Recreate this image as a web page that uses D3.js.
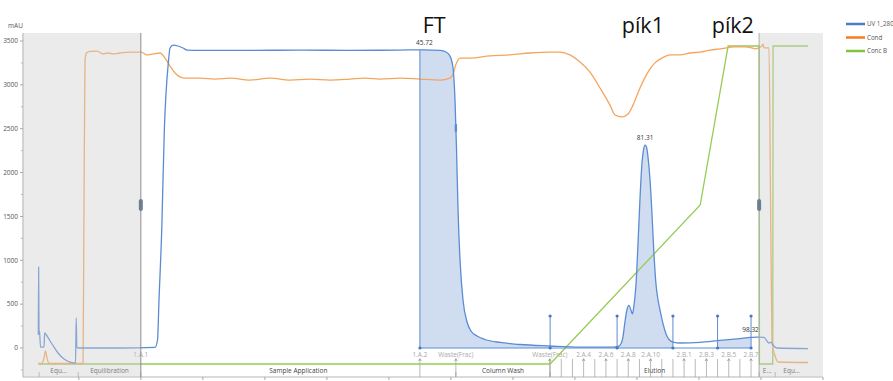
<!DOCTYPE html>
<html>
<head>
<meta charset="utf-8">
<script src="https://cdn.jsdelivr.net/npm/d3@7/dist/d3.min.js"></script>
<style>
  body { margin: 0; background: #fff; }
  svg { display: block; }
  text { font-family: "Open Sans", "Noto Sans", sans-serif; }
</style>
</head>
<body>
<svg id="chart" width="893" height="381"></svg>
<script>
// ---------- run data ----------
// UV 1_280 trace: retention volume (mL) and absorbance (mAU)
const uvVolume = [-16.53,-16.48,-16.42,-16.32,-16.17,-15.61,-15.51,-15.13,-14.64,-14.0,-13.35,-12.38,-11.42,-10.53,-10.42,-10.32,-10.13,-3.35,
  2.29,2.69,2.93,3.37,3.79,4.43,4.71,5.19,6.0,6.8,7.45,9.55,17.61,25.67,33.73,41.79,45.72,48.24,49.21,49.85,50.34,50.66,50.9,51.15,51.47,51.95,52.6,53.24,54.21,55.5,57.92,61.14,65.98,70.82,
  76.12,76.93,77.41,77.74,78.06,78.38,78.7,79.03,79.27,79.51,79.84,80.16,80.48,80.81,81.05,81.31,81.54,81.78,82.11,82.43,82.75,83.08,83.4,83.72,84.21,84.69,85.18,85.82,86.94,90.16,93.39,96.61,98.32,
  99.52,100.49,100.97,101.29,101.62,101.94,102.59,107.59];
const uvAbs = [148,923,205,171,11,11,171,137,80,11,-57,-125,-160,-171,342,11,0,0,
  6,91,547,1345,2485,3249,3420,3454,3443,3420,3397,3392,3392,3397,3392,3397,3399,3392,3375,3329,3192,2827,2280,1573,1003,547,296,194,137,97,63,40,23,11,
  11,17,46,125,296,433,485,433,388,479,718,1174,1687,2109,2257,2314,2292,2178,1915,1516,1060,718,547,433,274,160,97,68,57,63,86,108,120,
  125,120,80,57,68,34,0,-6];

// Cond trace: volume (mL) and conductivity (mS/cm)
const condVolume = [-16.58,-15.93,-15.61,-15.37,-15.13,-14.8,-9.32,-9.16,-9.0,-8.76,-8.19,-7.06,-6.1,-5.29,-4.48,-3.35,-1.74,0.03,1.0,1.97,3.1,3.9,4.71,5.51,6.32,7.13,
  9.55,11.97,14.38,17.61,20.83,24.06,27.28,30.51,33.73,36.15,38.57,41.79,45.02,48.24,49.85,50.34,50.83,51.47,53.08,56.31,59.53,62.76,65.98,
  67.59,69.2,70.82,72.43,74.04,75.65,76.46,77.59,78.56,79.36,80.49,81.78,82.91,84.03,85.32,86.94,88.55,90.16,91.77,93.39,95.81,97.42,98.55,99.2,99.68,
  100.17,100.33,100.49,101.29,101.54,101.78,102.27,102.75,107.59];
const condValue = [0.16,0.16,1.89,4.09,1.89,0.16,0.16,51.6,95.6,97.8,98.3,98.4,97.5,97.8,97.5,97.8,98.1,98.1,97.2,97.5,97.8,96.2,93.7,91.5,90.3,89.9,
  89.9,89.6,89.9,89.3,89.9,89.3,89.6,89.3,89.6,89.9,89.6,89.9,89.6,89.3,89.9,91.2,94.3,96.2,96.2,96.9,97.2,97.8,98.1,
  98.1,97.2,95.0,91.8,86.8,81.4,78.3,77.7,78.6,81.4,86.8,91.8,94.7,96.2,97.2,97.2,97.8,98.1,98.7,99.1,99.7,99.7,99.4,99.1,99.5,
  100,100.6,99.4,99.4,51.6,6.6,2.5,0.63,0.47];

// Conc B trace: volume (mL) and % buffer B
const concVolume = [-16.5, 66.0, 90.2, 94.7, 99.7, 99.75, 101.9, 101.95, 107.59];
const concB      = [0, 0, 50, 100, 100, 0, 0, 100, 100];

// Left axis ticks (mAU) and volume ticks (mL)
const uvMajorTicks = [0, 500, 1000, 1500, 2000, 2500, 3000, 3500];
const uvMinorTicks = [-250, 250, 750, 1250, 1750, 2250, 2750, 3250];
const volumeTicks = [-10, 0, 10, 20, 30, 40, 50, 60, 70, 80, 90, 100, 110];

// Fractions
const fractionNames = ["1.A.1","1.A.2","Waste(Frac)","Waste(Frac)","2.A.1","2.A.2","2.A.3","2.A.4","2.A.5","2.A.6","2.A.7","2.A.8","2.A.9","2.A.10","2.A.11","2.A.12",
  "2.B.1","2.B.2","2.B.3","2.B.4","2.B.5","2.B.6","2.B.7"];
const fractionStarts = [0, 45.0, 50.8, 65.95, 66.0, 67.8, 69.6, 71.4, 73.2, 75.0, 76.8, 78.6, 80.4, 82.2, 84.0, 85.8,
  87.6, 89.4, 91.2, 93.0, 94.8, 96.6, 98.4];
// fractions whose name fits on the axis
const labelledFractions = ["1.A.1","1.A.2","Waste(Frac)","2.A.4","2.A.6","2.A.8","2.A.10","2.B.1","2.B.3","2.B.5","2.B.7"];

// Method phases
const phaseNames  = ["", "Equ...", "Equilibration", "Sample Application", "Column Wash", "Elution", "E...", "Equ..."];
const phaseStarts = [-19, -16.4, -10.1, 0, 50.8, 66.0, 99.7, 102.3];
const phaseEnds   = [-16.4, -10.1, 0, 50.8, 66.0, 99.7, 102.3, 107.6];

// Integrated peaks: limits (mL) and retention at maximum (mL)
const peakStart = [45.0, 76.8, 93.0];
const peakEnd   = [66.0, 85.8, 98.4];
const peakRetention = [45.72, 81.31, 98.32];

// Hand-written notes above the peaks
const noteText   = ["FT", "pík1", "pík2"];
const noteVolume = [45.46, 77.55, 92.06];

// Shaded (outside sample run) volume ranges
const shadeStart = [-19, 99.7];
const shadeEnd   = [0, 110];

// Legend
const seriesNames = ["UV 1_280", "Cond", "Conc B"];

// ---------- drawing ----------
const svg = d3.select("#chart");
const P = { left: 23, right: 823, top: 33, bottom: 377 };
const COL = { uv: "#5b8cd3", uvFill: "rgba(110,150,210,0.32)", cond: "#f3a55c", conc: "#97cb55",
  uvLeg: "#4a7cc4", condLeg: "#f47d1f", concLeg: "#84c13f" };

const x = d3.scaleLinear().domain([-19, 110]).range([P.left, P.right]);
const yUV = d3.scaleLinear().domain([0, 3500]).range([348, 41]);
const yCond = d3.scaleLinear().domain([0, 100]).range([364, 46]);
const yConc = d3.scaleLinear().domain([0, 100]).range([364, 46]);

const uvData = uvVolume.map((v, i) => [v, uvAbs[i]]);
const condData = condVolume.map((v, i) => [v, condValue[i]]);
const concData = concVolume.map((v, i) => [v, concB[i]]);

// UV reading at a volume, for placing markers on the trace
function uvAt(v) {
  const i = d3.bisectLeft(uvVolume, v);
  if (i <= 0) return uvAbs[0];
  if (i >= uvVolume.length) return uvAbs[uvAbs.length - 1];
  const t = (v - uvVolume[i - 1]) / (uvVolume[i] - uvVolume[i - 1]);
  return uvAbs[i - 1] + t * (uvAbs[i] - uvAbs[i - 1]);
}

const defs = svg.append("defs");
defs.append("clipPath").attr("id", "plotClip").append("rect")
  .attr("x", P.left).attr("y", P.top).attr("width", P.right - P.left).attr("height", P.bottom - P.top);

// left axis
const yAxis = svg.append("g").attr("class", "y-axis");
yAxis.append("line").attr("x1", P.left).attr("x2", P.left).attr("y1", P.top).attr("y2", P.bottom)
  .attr("stroke", "#a8a8a8").attr("stroke-width", 1);
yAxis.selectAll("line.maj").data(uvMajorTicks).join("line").attr("class", "maj")
  .attr("x1", P.left - 3).attr("x2", P.left).attr("y1", d => yUV(d)).attr("y2", d => yUV(d))
  .attr("stroke", "#a8a8a8");
yAxis.selectAll("line.min").data(uvMinorTicks).join("line").attr("class", "min")
  .attr("x1", P.left - 2).attr("x2", P.left).attr("y1", d => yUV(d)).attr("y2", d => yUV(d))
  .attr("stroke", "#b8b8b8");
yAxis.selectAll("text").data(uvMajorTicks).join("text")
  .attr("x", P.left - 5).attr("y", d => yUV(d) + 2.3).attr("text-anchor", "end")
  .attr("font-size", 6.5).attr("fill", "#555").text(d => d);
svg.append("text").attr("x", 8).attr("y", 28).attr("font-size", 6.5).attr("fill", "#555").text("mAU");

// bottom axis
const xAxis = svg.append("g").attr("class", "x-axis");
xAxis.append("line").attr("x1", P.left).attr("x2", P.right).attr("y1", P.bottom).attr("y2", P.bottom)
  .attr("stroke", "#b5b5b5");
xAxis.selectAll("line.tk").data(volumeTicks).join("line").attr("class", "tk")
  .attr("x1", d => x(d)).attr("x2", d => x(d)).attr("y1", P.bottom).attr("y2", P.bottom + 3)
  .attr("stroke", "#a8a8a8");

// method phases
const phases = phaseNames.map((n, i) => ({ n, s: phaseStarts[i], e: phaseEnds[i] }));
const ph = svg.append("g").attr("class", "phases");
ph.selectAll("line").data(phases.slice(1)).join("line")
  .attr("x1", d => x(d.s)).attr("x2", d => x(d.s)).attr("y1", P.bottom - 5).attr("y2", P.bottom)
  .attr("stroke", "#9a9a9a").attr("stroke-width", 0.8);
ph.selectAll("text").data(phases.filter(d => d.n)).join("text")
  .attr("x", d => x((d.s + d.e) / 2)).attr("y", 372.5).attr("text-anchor", "middle")
  .attr("font-size", 6.5).attr("fill", "#444").text(d => d.n);

// fractions
const fr = svg.append("g").attr("class", "fractions");
const fracs = fractionNames.map((n, i) => ({ n, v: fractionStarts[i], shown: labelledFractions.includes(n) }));
fr.selectAll("text").data(fracs.filter(d => d.shown)).join("text")
  .attr("x", d => x(d.v)).attr("y", 357).attr("text-anchor", "middle")
  .attr("font-size", 6.5).attr("fill", "#a9a9a9").text(d => d.n);
fr.selectAll("line").data(fracs.filter(d => d.v > 0)).join("line")
  .attr("x1", d => x(d.v)).attr("x2", d => x(d.v)).attr("y1", 359).attr("y2", P.bottom)
  .attr("stroke", "#9c9c9c").attr("stroke-width", 0.7);
fr.selectAll("path").data(fracs.filter(d => d.v > 0 && d.shown)).join("path")
  .attr("d", d => `M${x(d.v) - 1.3},361 L${x(d.v)},358.6 L${x(d.v) + 1.3},361`)
  .attr("fill", "none").attr("stroke", "#8a8a8a").attr("stroke-width", 0.7);

// curves
const gCurves = svg.append("g").attr("clip-path", "url(#plotClip)");

// peak fills
peakStart.forEach((s, i) => {
  const id = "pk" + i;
  defs.append("clipPath").attr("id", id).append("rect")
    .attr("x", x(s)).attr("y", P.top).attr("width", x(peakEnd[i]) - x(s)).attr("height", P.bottom - P.top);
  gCurves.append("path").datum(uvData).attr("clip-path", `url(#${id})`)
    .attr("fill", COL.uvFill)
    .attr("d", d3.area().x(d => x(d[0])).y0(yUV(0)).y1(d => yUV(Math.max(0, d[1]))).curve(d3.curveMonotoneX));
});

gCurves.append("path").datum(concData).attr("fill", "none").attr("stroke", COL.conc).attr("stroke-width", 1.3)
  .attr("d", d3.line().x(d => x(d[0])).y(d => yConc(d[1])));
gCurves.append("path").datum(condData).attr("fill", "none").attr("stroke", COL.cond).attr("stroke-width", 1.3)
  .attr("d", d3.line().x(d => x(d[0])).y(d => yCond(d[1])).curve(d3.curveMonotoneX));
gCurves.append("path").datum(uvData).attr("fill", "none").attr("stroke", COL.uv).attr("stroke-width", 1.3)
  .attr("d", d3.line().x(d => x(d[0])).y(d => yUV(d[1])).curve(d3.curveMonotoneX));

// peak baseline and limit markers
const mk = svg.append("g").attr("class", "peak-markers");
mk.append("line").attr("x1", x(peakStart[0])).attr("x2", x(peakEnd[peakEnd.length - 1]))
  .attr("y1", yUV(0)).attr("y2", yUV(0)).attr("stroke", COL.uv).attr("stroke-width", 1);
const limits = peakStart.concat(peakEnd);
limits.forEach(v => {
  const markTop = yUV(0) - 32;
  const curveTop = yUV(uvAt(v));
  const top = Math.min(markTop, curveTop);
  mk.append("line").attr("x1", x(v)).attr("x2", x(v)).attr("y1", yUV(0)).attr("y2", top)
    .attr("stroke", COL.uv).attr("stroke-width", 1);
  mk.append("circle").attr("cx", x(v)).attr("cy", yUV(0)).attr("r", 1.6).attr("fill", "#4a78bd");
  if (markTop < curveTop) mk.append("circle").attr("cx", x(v)).attr("cy", markTop).attr("r", 1.6).attr("fill", "#4a78bd");
});
// event mark on the UV trace at the waste valve switch
mk.append("rect").attr("x", x(fractionStarts[2]) - 1.2).attr("y", yUV(uvAt(fractionStarts[2])) - 4)
  .attr("width", 2.4).attr("height", 8).attr("rx", 1).attr("fill", COL.uv);

// peak retention labels
svg.selectAll("text.ret").data(peakRetention).join("text").attr("class", "ret")
  .attr("x", d => x(d)).attr("y", d => yUV(uvAt(d)) - 5).attr("text-anchor", "middle")
  .attr("font-size", 6.5).attr("fill", "#333").text(d => d.toFixed(2));

// shaded regions outside the sample run
const sh = svg.append("g");
shadeStart.forEach((s, i) => {
  sh.append("rect").attr("x", x(s)).attr("y", P.top).attr("width", x(shadeEnd[i]) - x(s)).attr("height", P.bottom - P.top)
    .attr("fill", "#cdcdcd").attr("opacity", 0.4);
});
sh.append("line").attr("x1", x(shadeEnd[0])).attr("x2", x(shadeEnd[0])).attr("y1", P.top).attr("y2", P.bottom)
  .attr("stroke", "#8e8e8e").attr("stroke-width", 1);
sh.append("line").attr("x1", x(shadeStart[1])).attr("x2", x(shadeStart[1])).attr("y1", P.top).attr("y2", P.bottom)
  .attr("stroke", "#a7b1a3").attr("stroke-width", 1);
[shadeEnd[0], shadeStart[1]].forEach(v => {
  sh.append("rect").attr("x", x(v) - 2).attr("y", 199).attr("width", 4).attr("height", 12).attr("rx", 2)
    .attr("fill", "#6e7e92");
});

// notes
svg.selectAll("text.note").data(noteText).join("text").attr("class", "note")
  .attr("x", (d, i) => x(noteVolume[i])).attr("y", 32.5)
  .attr("font-family", "Lato, 'Open Sans', sans-serif").attr("font-size", 21.5).attr("fill", "#111")
  .text(d => d);

// legend
const legCols = [COL.uvLeg, COL.condLeg, COL.concLeg];
const lg = svg.append("g").attr("class", "legend");
seriesNames.forEach((n, i) => {
  const yy = 24 + i * 13.5;
  lg.append("line").attr("x1", 846).attr("x2", 865).attr("y1", yy).attr("y2", yy)
    .attr("stroke", legCols[i]).attr("stroke-width", 2.5);
  lg.append("text").attr("x", 867).attr("y", yy + 2.2).attr("font-size", 6.2).attr("fill", "#555").text(n);
});
</script>
</body>
</html>
